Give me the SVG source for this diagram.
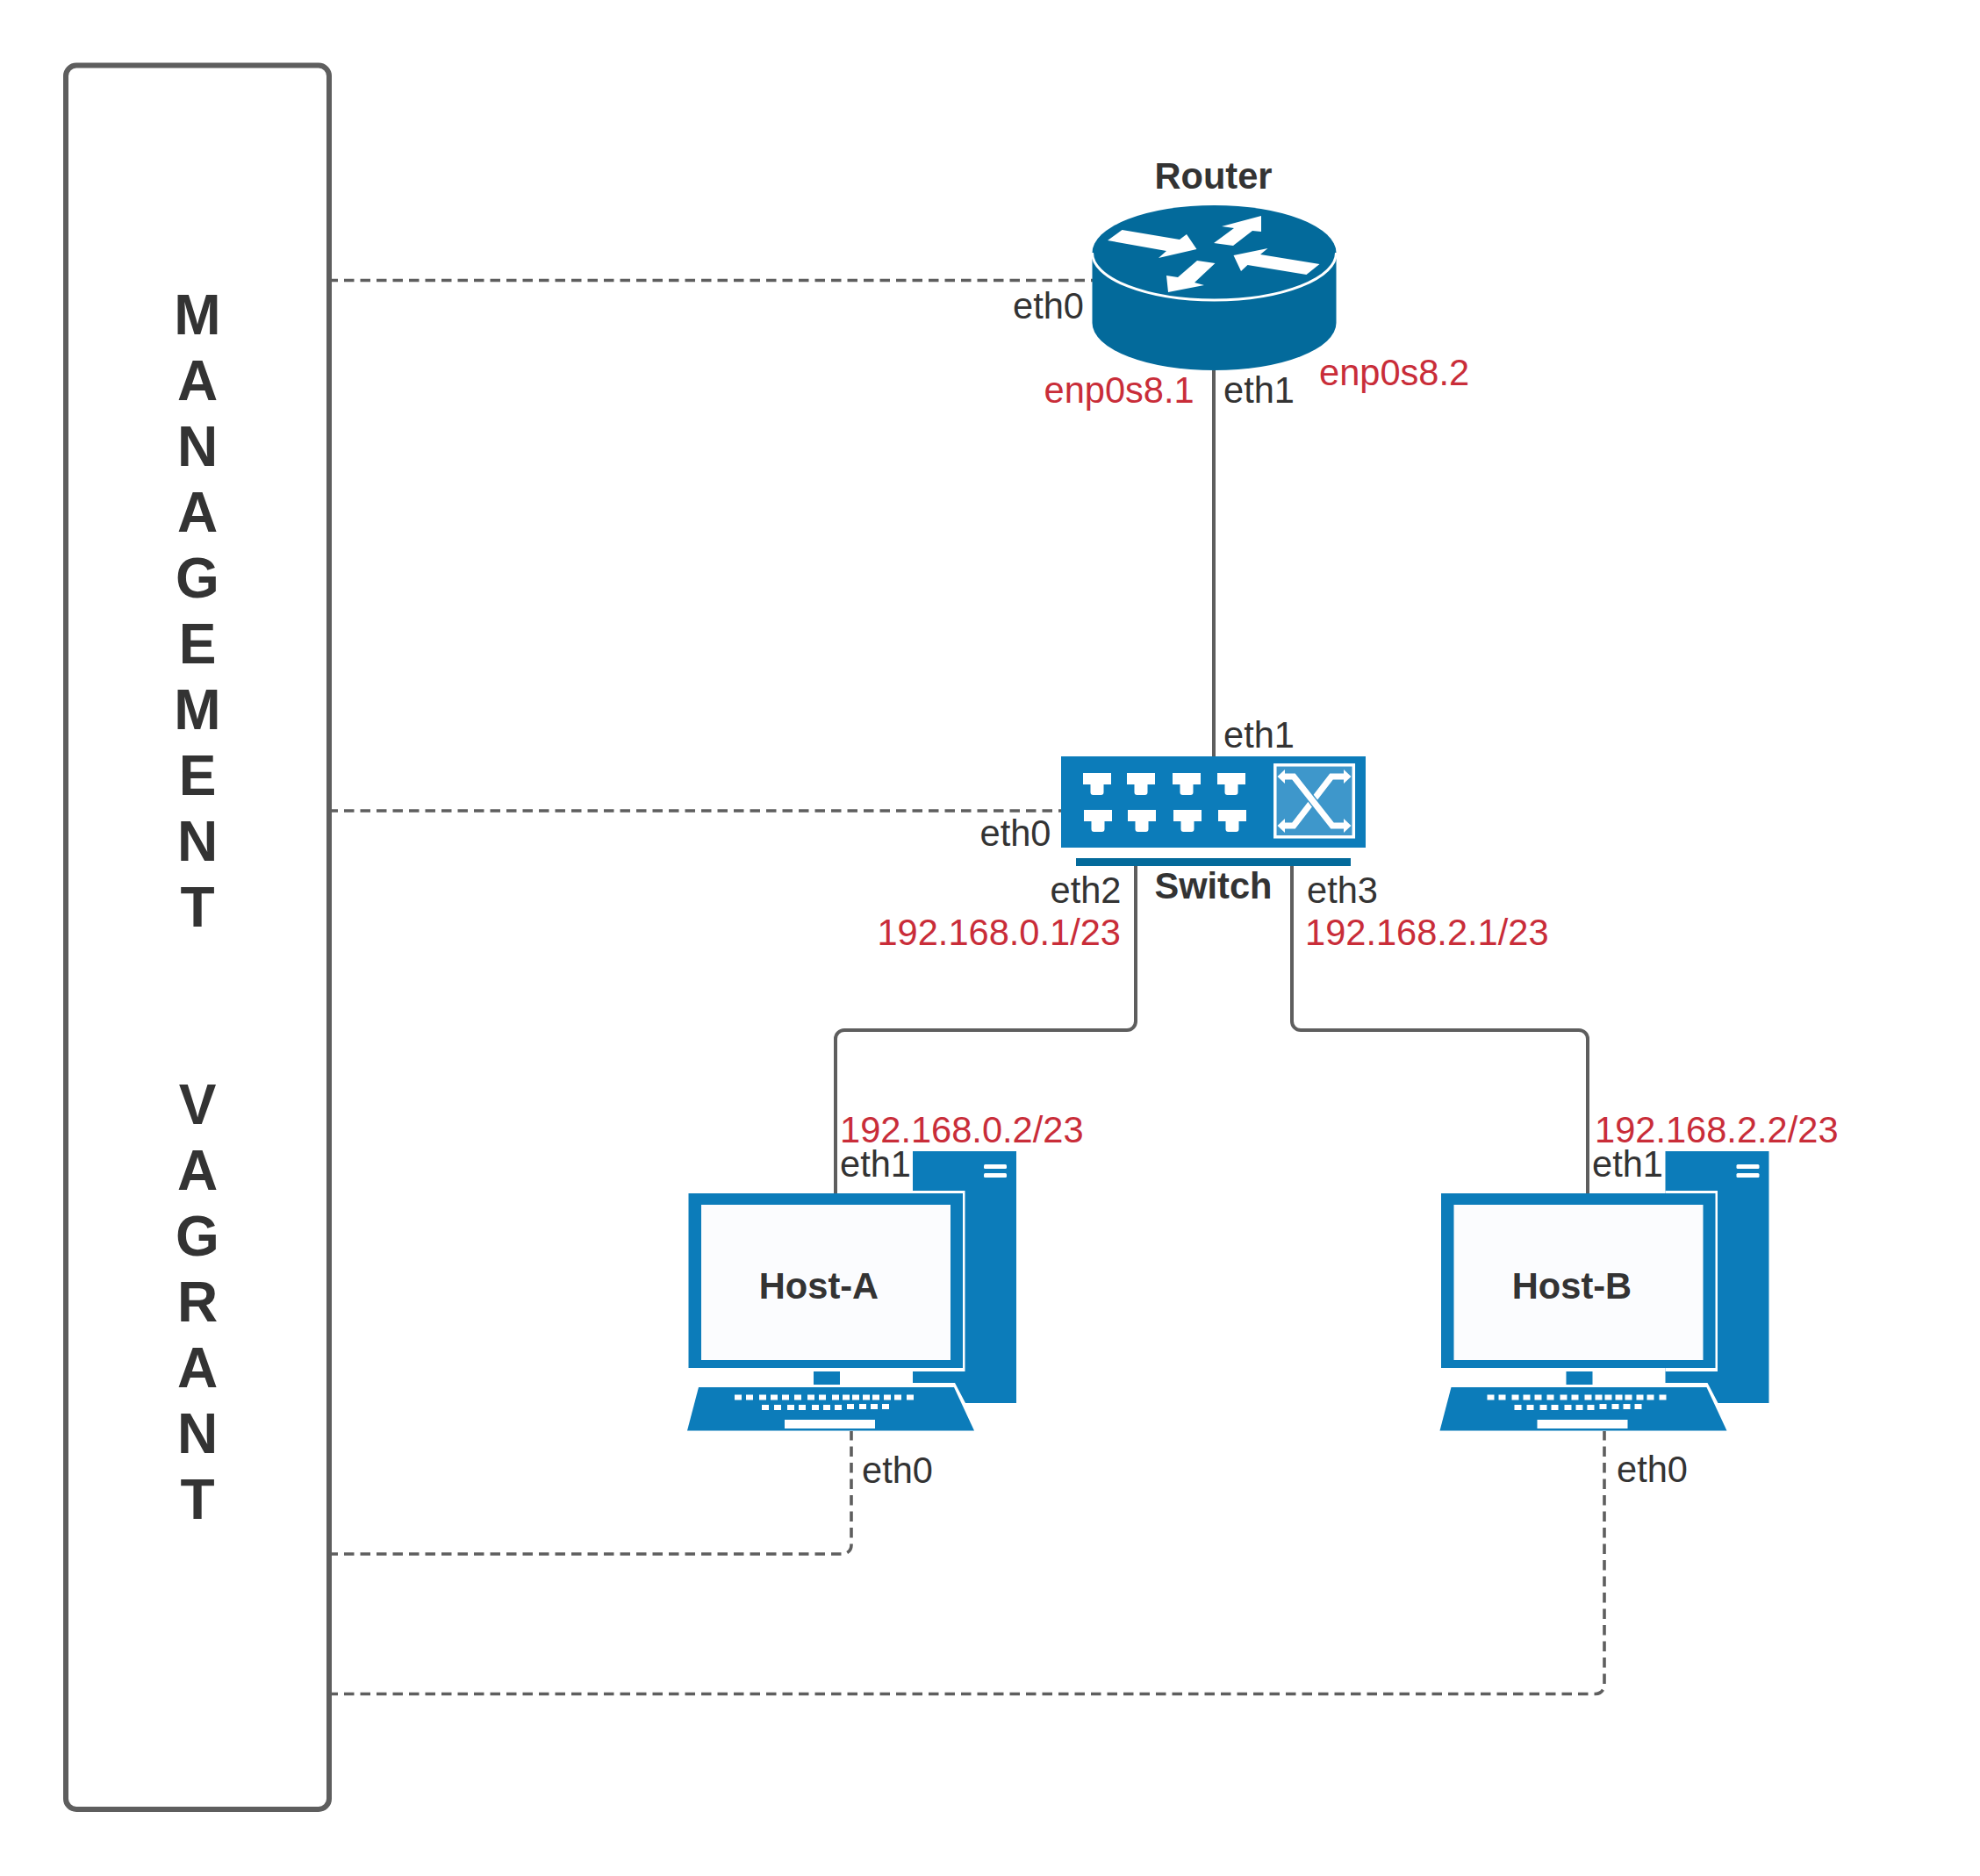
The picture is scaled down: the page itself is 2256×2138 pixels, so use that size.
<svg xmlns="http://www.w3.org/2000/svg" xmlns:xlink="http://www.w3.org/1999/xlink" width="2256" height="2138" viewBox="0 0 2256 2138">
<style>
text{font-family:"Liberation Sans",Arial,sans-serif;font-size:41.6px;fill:#333333}
.b{font-weight:bold;text-anchor:middle}
.r{fill:#c92d39}
.e{text-anchor:end}
.big{font-size:64px;font-weight:bold;text-anchor:middle}
.solid,.dash{fill:none;stroke:#5e5e5e;stroke-width:4}
.dash{stroke-width:3.600;stroke-dasharray:11.5 7;stroke-dashoffset:4.5}
.blue{fill:#0c7cba}
.dark{fill:#036a9b}
.wh{fill:#ffffff}
</style>
<defs>
<g id="computer">
<path class="blue" d="M1040,1312H1158V1599H1100L1088,1576H1040Z"/>
<rect class="wh" x="1121" y="1327" width="26" height="5" rx="1.5"/>
<rect class="wh" x="1121" y="1337" width="26" height="5" rx="1.5"/>
<rect class="wh" x="1040" y="1357" width="59.500" height="206"/>
<rect class="blue" x="784.500" y="1360" width="312.500" height="199"/>
<rect x="799" y="1373" width="284" height="177" fill="#fbfcfe"/>
<rect class="blue" x="927" y="1563" width="30" height="15"/>
<path class="blue" d="M796,1581H1087L1110,1630.500H783Z"/>
<path class="wh" d="M837,1589.500h8v6h-8zM850,1589.500h8v6h-8zM865,1589.500h8v6h-8zM878,1589.500h8v6h-8zM891,1589.500h8v6h-8zM905,1589.500h8v6h-8zM920,1589.500h8v6h-8zM933,1589.500h8v6h-8zM948,1589.500h8v6h-8zM960,1589.500h8v6h-8zM971,1589.500h8v6h-8zM983,1589.500h8v6h-8zM994,1589.500h8v6h-8zM1007,1589.500h8v6h-8zM1019,1589.500h8v6h-8zM1033,1589.500h8v6h-8zM868,1601h8v6h-8zM882,1601h8v6h-8zM897,1601h8v6h-8zM910,1601h8v6h-8zM925,1601h8v6h-8zM938,1601h8v6h-8zM951,1601h8v6h-8zM965,1600h8v6h-8zM979,1600h8v6h-8zM992,1600h8v6h-8zM1005,1600h8v6h-8z"/>
<rect class="wh" x="894" y="1618" width="103" height="10"/>
</g>
<path id="port" class="wh" d="M0,0H32V13H23.500V22Q23.500,25 20.500,25H11.500Q8.500,25 8.500,22V13H0Z"/>
</defs>
<rect width="2256" height="2138" fill="#ffffff"/>
<g id="connectors">
<path class="solid" d="M1383,422V862"/>
<path class="solid" d="M1294,987V1164a10,10 0 0 1 -10,10H962a10,10 0 0 0 -10,10V1360"/>
<path class="solid" d="M1472,987V1164a10,10 0 0 0 10,10H1799a10,10 0 0 1 10,10V1360"/>
<path class="dash" d="M378,319.500H1245"/>
<path class="dash" d="M378,924H1209"/>
<path class="dash" d="M378,1771H960a10,10 0 0 0 10,-10V1631"/>
<path class="dash" d="M378,1930.500H1818a10,10 0 0 0 10,-10V1631"/>
</g>
<g id="management">
<rect x="75" y="74.500" width="300" height="1987.500" rx="12" ry="12" fill="#ffffff" stroke="#5e5e5e" stroke-width="6"/>
<text class="big"><tspan x="225" y="380.500">M</tspan><tspan x="225" y="455.500">A</tspan><tspan x="225" y="530.500">N</tspan><tspan x="225" y="605.500">A</tspan><tspan x="225" y="680.500">G</tspan><tspan x="225" y="755.500">E</tspan><tspan x="225" y="830.500">M</tspan><tspan x="225" y="905.500">E</tspan><tspan x="225" y="980.500">N</tspan><tspan x="225" y="1055.500">T</tspan><tspan x="225" y="1280.500">V</tspan><tspan x="225" y="1355.500">A</tspan><tspan x="225" y="1430.500">G</tspan><tspan x="225" y="1505.500">R</tspan><tspan x="225" y="1580.500">A</tspan><tspan x="225" y="1655.500">N</tspan><tspan x="225" y="1730.500">T</tspan></text>
</g>
<g id="router">
<path class="dark" d="M1244.500,288A139,54 0 0 1 1522.500,288V368A139,54 0 0 1 1244.500,368Z"/>
<path d="M1244.500,288A139,54 0 0 0 1522.500,288" fill="none" stroke="#ffffff" stroke-width="3"/>
<path class="wh" d="M1262,274L1278.500,262L1344,273L1352,267L1363.500,284L1320,294L1329,286Z"/>
<path class="wh" d="M1383,277L1405,280L1427,263L1437,264V246L1392,258L1406,260Z"/>
<path class="wh" d="M1503.500,301L1488.500,313L1421.500,302L1414,309L1405.500,291L1444.500,283L1436,290Z"/>
<path class="wh" d="M1364,297L1384.500,300L1361,322L1372,325L1331,333L1329,314L1342,316Z"/>
<text class="b" x="1382.500" y="214.500">Router</text>
<text x="1154" y="362.500">eth0</text>
<text class="r" x="1189.500" y="458.500">enp0s8.1</text>
<text x="1394" y="458.500">eth1</text>
<text class="r" x="1503" y="439">enp0s8.2</text>
</g>
<g id="switch">
<rect class="blue" x="1209" y="862" width="347" height="104"/>
<rect class="dark" x="1226" y="978" width="313" height="9"/>
<use xlink:href="#port" href="#port" x="1234" y="881"/><use xlink:href="#port" href="#port" x="1284" y="881"/><use xlink:href="#port" href="#port" x="1336" y="881"/><use xlink:href="#port" href="#port" x="1387" y="881"/>
<use xlink:href="#port" href="#port" x="1235" y="923"/><use xlink:href="#port" href="#port" x="1285" y="923"/><use xlink:href="#port" href="#port" x="1337" y="923"/><use xlink:href="#port" href="#port" x="1388" y="923"/>
<rect x="1452.800" y="871.800" width="89.500" height="82" fill="#3e97cb" stroke="#ffffff" stroke-width="3.500"/>
<path d="M1462,941H1474L1517,885H1533" fill="none" stroke="#ffffff" stroke-width="7"/>
<path d="M1462,885H1474L1518,941H1533" fill="none" stroke="#3e97cb" stroke-width="10"/>
<path d="M1462,885H1474L1518,941H1533" fill="none" stroke="#ffffff" stroke-width="7"/>
<path class="wh" d="M1455.500,885L1464,877V893ZM1539.500,885L1531,877V893ZM1455.500,941L1464,933V949ZM1539.500,941L1531,933V949Z"/>
<text class="b" x="1382.500" y="1023.500">Switch</text>
<text x="1394" y="852">eth1</text>
<text x="1116.500" y="964">eth0</text>
<text class="e" x="1277.500" y="1028.500">eth2</text>
<text x="1489" y="1028.500">eth3</text>
<text class="r e" x="1277" y="1077">192.168.0.1/23</text>
<text class="r" x="1487" y="1077">192.168.2.1/23</text>
</g>
<g id="host-a">
<use xlink:href="#computer" href="#computer"/>
<text class="b" x="933" y="1480">Host-A</text>
<text class="r" x="957" y="1302">192.168.0.2/23</text>
<text x="957" y="1341">eth1</text>
<text x="982" y="1690">eth0</text>
</g>
<g id="host-b">
<use xlink:href="#computer" href="#computer" x="857.500"/>
<text class="b" x="1791" y="1480">Host-B</text>
<text class="r" x="1817" y="1302">192.168.2.2/23</text>
<text x="1814" y="1341">eth1</text>
<text x="1842" y="1688.500">eth0</text>
</g>
</svg>
